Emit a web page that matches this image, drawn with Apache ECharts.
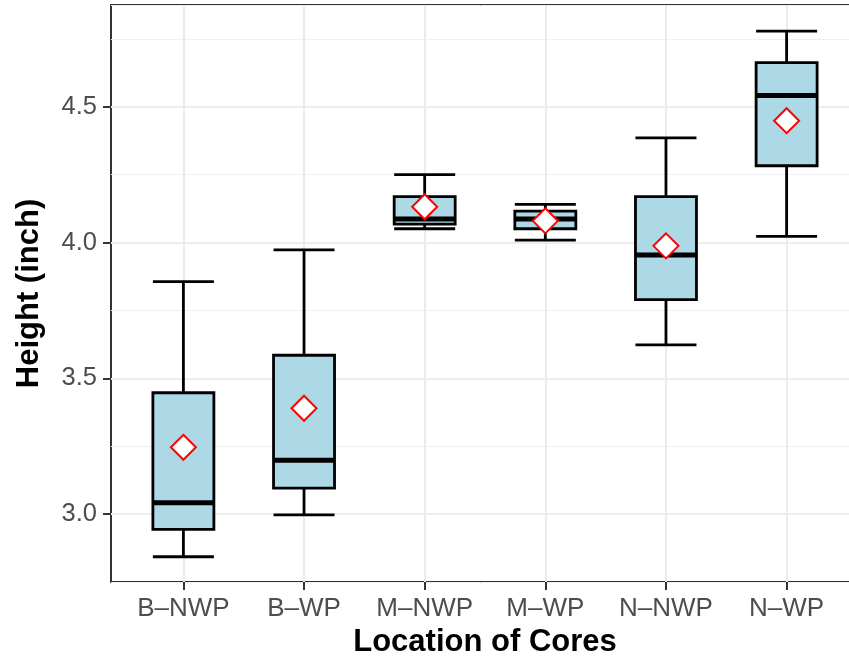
<!DOCTYPE html>
<html>
<head>
<meta charset="utf-8">
<script src="https://cdn.jsdelivr.net/npm/echarts@6/dist/echarts.min.js"></script>
<style>
  html, body { margin: 0; padding: 0; background: #fff; }
  #box { width: 849px; height: 659px; }
</style>
</head>
<body>
<div id="box"></div>
<script>
// 分组名称
var categories = ['B\u2013NWP', 'B\u2013WP', 'M\u2013NWP', 'M\u2013WP', 'N\u2013NWP', 'N\u2013WP'];
// 位置 (x 轴上的序号)
var positions = [1, 2, 3, 4, 5, 6];
// 五数概括
var mins    = [2.843, 2.997, 4.051, 4.009, 3.623, 4.023];
var q1s     = [2.944, 3.096, 4.068, 4.051, 3.790, 4.283];
var medians = [3.042, 3.198, 4.087, 4.087, 3.954, 4.542];
var q3s     = [3.447, 3.585, 4.169, 4.116, 4.169, 4.663];
var maxs    = [3.856, 3.973, 4.250, 4.141, 4.386, 4.779];
// 平均值
var means   = [3.246, 3.390, 4.132, 4.080, 3.988, 4.449];
// 刻度
var yTicks = [3.0, 3.5, 4.0, 4.5];

var font = 'Liberation Sans, Arial, Helvetica, sans-serif';

var boxData = [], medData = [], meanData = [];
for (var i = 0; i < categories.length; i++) {
    boxData.push([positions[i], mins[i], q1s[i], medians[i], q3s[i], maxs[i]]);
    medData.push([positions[i], medians[i]]);
    meanData.push([positions[i], means[i]]);
}

var chart = echarts.init(document.getElementById('box'));

var option = {
    backgroundColor: '#fff',
    animation: false,
    grid: {
        left: 111,
        top: 5,
        width: 748,
        height: 577,
        outerBoundsMode: 'none',
        show: true,
        borderColor: '#333333',
        borderWidth: 2,
        backgroundColor: '#fff'
    },
    xAxis: {
        type: 'value',
        min: 0.4,
        max: 6.6,
        name: 'Location of Cores',
        nameLocation: 'middle',
        nameGap: 38,
        nameTextStyle: { fontFamily: font, fontSize: 31, fontWeight: 'bold', color: '#000' },
        axisLine: { show: false },
        axisTick: {
            customValues: positions,
            length: 8,
            lineStyle: { color: '#333333', width: 2 }
        },
        axisLabel: {
            customValues: positions,
            margin: 14,
            fontFamily: font,
            fontSize: 26,
            color: '#4d4d4d',
            formatter: function (v) { return categories[Math.round(v) - 1]; }
        },
        splitLine: { show: true, lineStyle: { color: '#ebebeb', width: 2 } }
    },
    yAxis: [{
        type: 'value',
        min: 2.75,
        max: 4.875,
        name: 'Height (inch)',
        nameLocation: 'middle',
        nameGap: 66,
        nameTextStyle: { fontFamily: font, fontSize: 31, fontWeight: 'bold', color: '#000' },
        axisLine: { show: false },
        axisTick: {
            customValues: yTicks,
            length: 8,
            lineStyle: { color: '#333333', width: 2 }
        },
        axisLabel: {
            customValues: yTicks,
            margin: 14,
            fontFamily: font,
            fontSize: 25.5,
            color: '#4d4d4d',
            formatter: function (v) { return v.toFixed(1); }
        },
        splitLine: { show: true, lineStyle: { color: '#ebebeb', width: 2 } }
    }, {
        // 次网格线
        type: 'value',
        min: 2.75,
        max: 4.875,
        interval: 0.25,
        position: 'left',
        axisLine: { show: false },
        axisTick: { show: false },
        axisLabel: { show: false },
        splitLine: { show: true, lineStyle: { color: '#f0f0f0', width: 1 } }
    }],
    series: [{
        type: 'boxplot',
        data: boxData,
        boxWidth: [61, 61],
        itemStyle: {
            color: '#add8e6',
            borderColor: '#000',
            borderWidth: 2.8
        },
        z: 3
    }, {
        // 中位数粗线
        type: 'scatter',
        data: medData,
        symbol: 'rect',
        symbolSize: [61, 5],
        itemStyle: { color: '#000', opacity: 1 },
        z: 4
    }, {
        // 平均值
        type: 'scatter',
        data: meanData,
        symbol: 'diamond',
        symbolSize: 25,
        itemStyle: { color: '#fff', borderColor: '#ff0000', borderWidth: 2, opacity: 1 },
        z: 5
    }]
};

chart.setOption(option);
</script>
</body>
</html>
